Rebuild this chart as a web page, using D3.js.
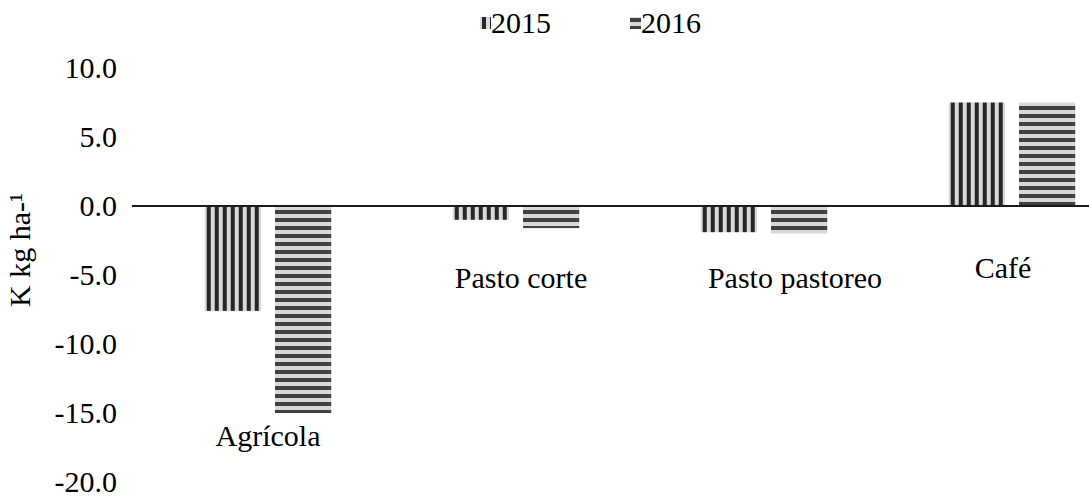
<!DOCTYPE html>
<html><head><meta charset="utf-8"><script src="https://cdn.jsdelivr.net/npm/d3@7"></script></head>
<body style="margin:0">
<script>
// data
const categories=["Agrícola","Pasto corte","Pasto pastoreo","Café"];
const years=["2015","2016"];
const v2015=[-7.6,-1.0,-1.9,7.5];
const v2016=[-15.0,-1.6,-2.0,7.5];
const yTicks=[10,5,0,-5,-10,-15,-20];

const w=1089,h=504;
const fs=30;

const svg=d3.select("body").append("svg")
    .attr("width",w).attr("height",h);

//text first
const labelPos={"Agrícola":[0,-16.7],"Pasto corte":[5,-5.2],"Pasto pastoreo":[31,-5.2],"Café":[-9,-4.5]};

// y axis labels
svg.selectAll("text.yt").data(yTicks).enter().append("text").attr("class","yt")
    .attr("x",117).attr("y",d=>0)
    .attr("font-family","'Times New Roman'").attr("font-size",fs)
    .attr("text-anchor","end")
    .text(d=>d.toFixed(1));

// category labels
svg.selectAll("text.cat").data(categories).enter().append("text").attr("class","cat")
    .attr("font-family","'Liberation Serif'").attr("font-size",fs)
    .attr("text-anchor","middle")
    .text(d=>d);

// y title
svg.append("text").attr("class","yti")
    .attr("font-family","Tinos").attr("font-size",fs)
    .attr("text-anchor","middle").text("K kg ha-¹");

// legend text
svg.selectAll("text.lg").data(years).enter().append("text").attr("class","lg")
    .attr("font-family","serif").attr("font-size",fs)
    .text(d=>d);

//scales
const y=d3.scaleLinear().domain([-20,10]).range([482,68]);
const x0=d3.scaleBand().domain(categories).range([144,1136]).paddingInner(0.49).paddingOuter(0.245);
const x1=d3.scaleBand().domain(years).range([0,x0.bandwidth()]).paddingInner(0.2);

svg.selectAll("text.yt").attr("y",d=>y(d)+10);
svg.selectAll("text.cat")
    .attr("x",d=>x0(d)+x0.bandwidth()/2+labelPos[d][0])
    .attr("y",d=>y(labelPos[d][1])+10);
svg.select("text.yti").attr("transform","translate(30,250) rotate(-90)");
svg.selectAll("text.lg").attr("x",(d,i)=>491+i*150).attr("y",33);

// patterns
const defs=svg.append("defs");
const pv=defs.append("pattern").attr("id","p2015").attr("patternUnits","userSpaceOnUse")
    .attr("width",8).attr("height",8);
pv.append("rect").attr("width",8).attr("height",8).attr("fill","#d9d9d9");
pv.append("rect").attr("x",2).attr("width",4).attr("height",8).attr("fill","#262626");
const ph=defs.append("pattern").attr("id","p2016").attr("patternUnits","userSpaceOnUse")
    .attr("width",8).attr("height",8);
ph.append("rect").attr("width",8).attr("height",8).attr("fill","#d9d9d9");
ph.append("rect").attr("y",2).attr("width",8).attr("height",4).attr("fill","#404040");

const rows=categories.map((c,i)=>({cat:c,vals:[{yr:"2015",v:v2015[i]},{yr:"2016",v:v2016[i]}]}));

//bars
const g=svg.append("g").selectAll("g").data(rows).enter().append("g")
    .attr("transform",d=>"translate("+x0(d.cat)+",0)");
g.selectAll("rect").data(d=>d.vals).enter().append("rect")
    .attr("x",d=>x1(d.yr))
    .attr("width",x1.bandwidth())
    .attr("y",d=>y(Math.max(0,d.v)))
    .attr("height",d=>Math.abs(y(d.v)-y(0)))
    .attr("fill",d=>"url(#p"+d.yr+")");

// zero line
svg.append("line").attr("x1",132).attr("x2",w).attr("y1",y(0)).attr("y2",y(0))
    .attr("stroke","#1a1a1a").attr("stroke-width",1.8);

//legend swatches
svg.append("g").selectAll("rect").data(years).enter().append("rect")
    .attr("x",(d,i)=>480+i*150).attr("y",17)
    .attr("width",11).attr("height",12).attr("fill",d=>"url(#p"+d+")");
</script>
</body>
</html>
